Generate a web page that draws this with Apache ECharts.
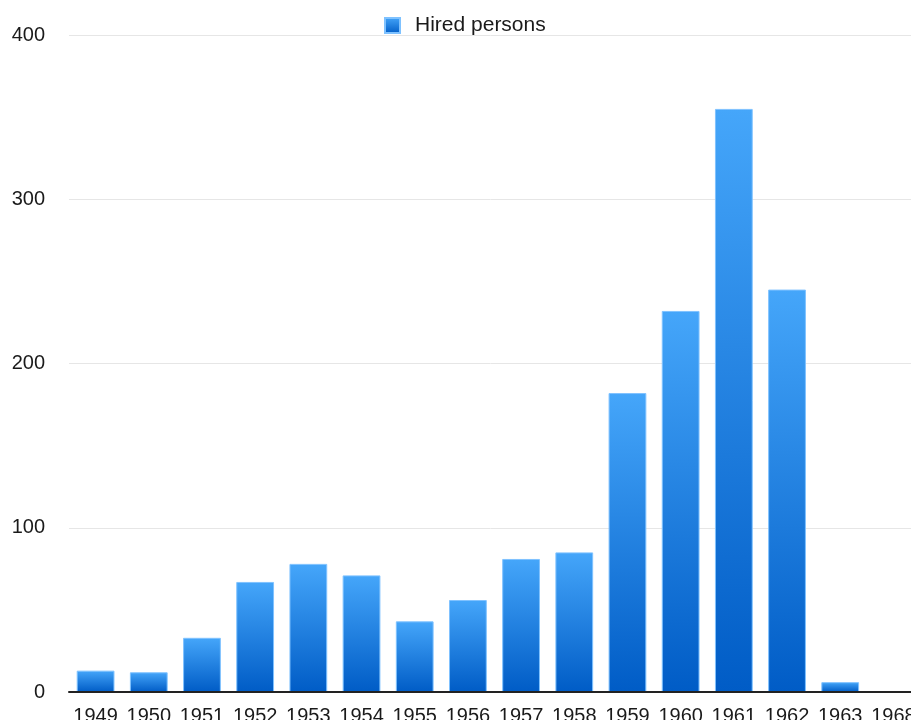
<!DOCTYPE html>
<html>
<head>
<meta charset="utf-8">
<script src="https://cdn.jsdelivr.net/npm/echarts@6/dist/echarts.min.js"></script>
<style>html,body{margin:0;padding:0;background:#fff;}#c{width:911px;height:720px;}</style>
</head>
<body>
<div id="c"></div>
<script>
const years = ['1949','1950','1951','1952','1953','1954','1955','1956','1957','1958','1959','1960','1961','1962','1963','1968'];
const hired = [13, 12, 33, 67, 78, 71, 43, 56, 81, 85, 182, 232, 355, 245, 6, 0];
const yTicks = [0, 100, 200, 300, 400];
const seriesName = 'Hired persons';

const chart = echarts.init(document.getElementById('c'), null, {renderer: 'canvas'});
const font = 'Liberation Sans, Arial, Helvetica, sans-serif';
const grad = new echarts.graphic.LinearGradient(0, 0, 0, 1, [
  {offset: 0, color: '#45a6fa'},
  {offset: 1, color: '#005cc6'}
]);
chart.setOption({
  animation: false,
  backgroundColor: '#fff',
  legend: {
    data: [seriesName],
    left: 379, top: 10,
    itemWidth: 15, itemHeight: 15, itemGap: 10,
    icon: 'rect',
    textStyle: {fontFamily: font, fontSize: 21, color: '#1a1a1a', padding: [0, 0, 0, 10]}
  },
  grid: {left: 69, top: 35, width: 851, height: 657, containLabel: false, outerBoundsMode: 'none'},
  xAxis: {
    type: 'category', data: years, z: 5,
    axisLine: {lineStyle: {color: '#222', width: 2}},
    axisTick: {show: false},
    axisLabel: {fontFamily: font, fontSize: 20, color: '#1a1a1a', margin: 14, interval: 0}
  },
  yAxis: {
    type: 'value', min: yTicks[0], max: yTicks[yTicks.length - 1], interval: 100,
    axisLine: {show: false}, axisTick: {show: false},
    splitLine: {lineStyle: {color: '#e6e6e6', width: 1}},
    axisLabel: {fontFamily: font, fontSize: 20, color: '#1a1a1a', margin: 24}
  },
  series: [{
    name: seriesName, type: 'bar', data: hired,
    barCategoryGap: '29%',
    itemStyle: {color: grad, borderColor: '#7fc2ff', borderWidth: 1}
  }]
});
</script>
</body>
</html>
